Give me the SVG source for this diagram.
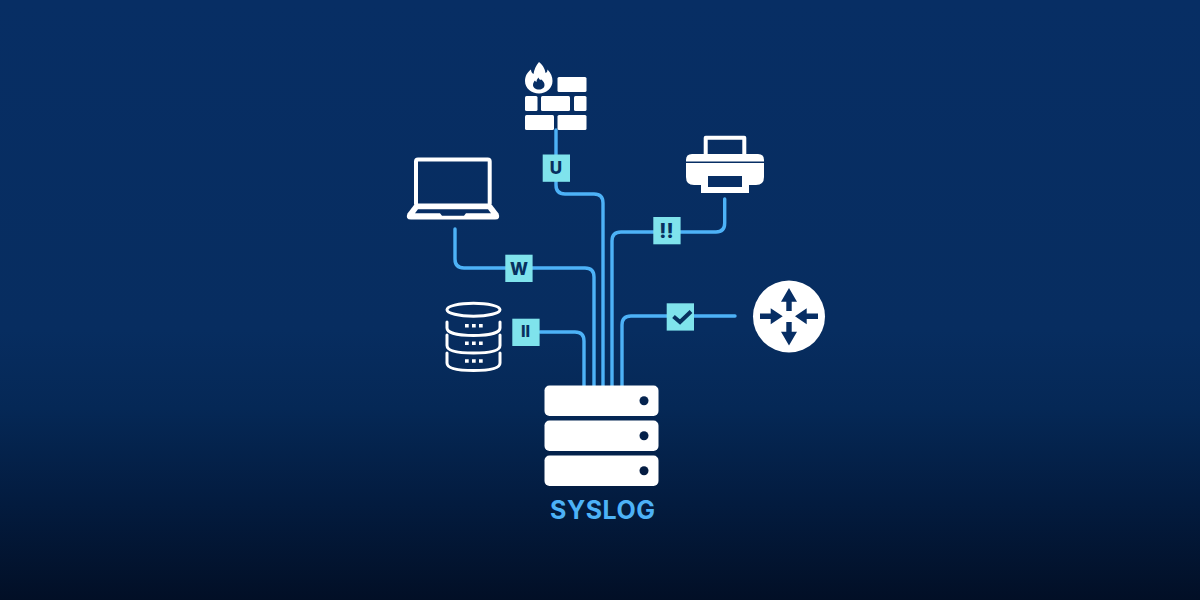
<svg xmlns="http://www.w3.org/2000/svg" width="1200" height="600" viewBox="0 0 1200 600">
<style>
.w{fill:#fff}
.d{fill:#072e64}
.k{fill:none;stroke:#fff;stroke-width:4;stroke-linejoin:round;stroke-linecap:round}
.c{fill:none;stroke:#4db2f7;stroke-width:3.400;stroke-linecap:round;stroke-linejoin:round}
.b{fill:#7fe3ec}
.t{font-family:Inter,"Liberation Sans",sans-serif;font-weight:800;font-size:17px;fill:#07305f;text-anchor:middle}
</style>
<defs>
<linearGradient id="bg" x1="0" y1="0" x2="0" y2="1">
<stop offset="0" stop-color="#072e64"/>
<stop offset="0.55" stop-color="#072d60"/>
<stop offset="0.68" stop-color="#052856"/>
<stop offset="0.83" stop-color="#031c40"/>
<stop offset="1" stop-color="#020f26"/>
</linearGradient>
</defs>
<rect width="1200" height="600" fill="url(#bg)"/>
<g id="connectors">
<path class="c" d="M556 130V185Q556 194 565 194H594Q603 194 603 203V386"/>
<path class="c" d="M455 229V259Q455 268 464 268H585Q594 268 594 277V386"/>
<path class="c" d="M724.700 199V223Q724.700 232 716 232H621Q612 232 612 241V386"/>
<path class="c" d="M735 316H631Q622 316 622 325V386"/>
<path class="c" d="M540 332H575Q584 332 584 341V386"/>
</g>
<g id="firewall">
<rect class="w" x="557.500" y="77" width="29" height="15" rx="1.500"/>
<rect class="w" x="525" y="96" width="12.500" height="15" rx="1.500"/>
<rect class="w" x="541" y="96" width="29" height="15" rx="1.500"/>
<rect class="w" x="574" y="96" width="12.500" height="15" rx="1.500"/>
<rect class="w" x="525" y="115" width="29" height="15" rx="1.500"/>
<rect class="w" x="557.500" y="115" width="29" height="15" rx="1.500"/>
<path class="w" d="M539 62C544 66 545 70 545.500 73C547 72.500 547.500 71 547.500 69.500C551 73 552.500 77 552.500 81C552.500 88.500 546 93.500 539 93.500C531.500 93.500 525 88.500 525 81C525 76 527.500 72 531 69.500C531 71.500 532 73 533.500 74C534 70 536 65.500 539 62Z"/>
<path class="d" d="M538.500 77.500C539 80 541 80 541.500 79.500C543.500 81.500 544.500 83 544.500 85C544.500 87.800 542 89.500 539 89.500C535.500 89.500 533 87.500 533 85C533 83 534 81.500 535 80.500C535.500 81.500 536 81.800 536.500 82C536.500 80.500 537 79 538.500 77.500Z"/>
</g>
<g id="laptop">
<rect class="k" x="416" y="159.500" width="73.700" height="46" rx="2"/>
<path class="w" d="M414 205H492L498.500 213.500Q501 219.500 495 219.500H411Q405 219.500 407.500 213.500Z"/>
<path class="d" d="M418 209.300H488L491 213.300H466L464 215.700H442L440 213.300H415Z"/>
</g>
<g id="printer">
<rect class="k" x="705.700" y="137.700" width="38.600" height="20" stroke-linejoin="miter"/>
<path class="w" d="M692 154H758Q764 154 764 160V177Q764 185 756 185H749V193H701V185H694Q686 185 686 177V160Q686 154 692 154Z"/>
<rect class="d" x="686" y="161.500" width="78" height="1.500"/>
<rect class="d" x="708" y="176" width="34" height="11"/>
</g>
<g id="router">
<circle class="w" cx="789" cy="316.500" r="36"/>
<path class="d" d="M789 288L797 301.700H791.700V311H786.300V301.700H781Z"/>
<path class="d" d="M789 345.500L797 331.700H791.700V322H786.300V331.700H781Z"/>
<path class="d" d="M782.700 316.300L770.700 308.300V313.600H760V319H770.700V324.300Z"/>
<path class="d" d="M795 316.300L806.700 308.300V313.600H818V319H806.700V324.300Z"/>
</g>
<g id="database" fill="none" stroke="#fff" stroke-width="3" stroke-linecap="round">
<ellipse cx="473.500" cy="309.700" rx="26.500" ry="6.500"/>
<path d="M447 322V328C447 333 459 335.500 473.500 335.500C488 335.500 500 333 500 328V322"/>
<path d="M447 335V345.500C447 351 459 353 473.500 353C488 353 500 351 500 345.500V335"/>
<path d="M447 353V363C447 368.500 459 370.500 473.500 370.500C488 370.500 500 368.500 500 363V353"/>
<path d="M465 325.700H482.700M465 343.300H482.700M465 361H482.700" stroke-width="3.500" stroke-dasharray="3.700 3.300" stroke-linecap="butt"/>
</g>
<g id="server">
<rect class="w" x="544.500" y="385.500" width="114" height="30.500" rx="5"/>
<rect class="w" x="544.500" y="420.500" width="114" height="30.500" rx="5"/>
<rect class="w" x="544.500" y="455.500" width="114" height="30.500" rx="5"/>
<circle fill="#05244f" cx="644" cy="400.700" r="4.500"/>
<circle fill="#04204a" cx="644" cy="435.700" r="4.500"/>
<circle fill="#041c42" cx="644" cy="470.700" r="4.500"/>
<text x="602.800" y="519" font-family="Inter,'Liberation Sans',sans-serif" font-weight="700" font-size="25" letter-spacing="0.500" fill="#4db2f7" text-anchor="middle">SYSLOG</text>
</g>
<g id="badge-u">
<rect class="b" x="542.700" y="154.500" width="27.300" height="27.300"/>
<text class="t" x="556" y="174">U</text>
</g>
<g id="badge-w">
<rect class="b" x="505.300" y="254.700" width="27.300" height="27.300"/>
<text class="t" x="519" y="275.300">W</text>
</g>
<g id="badge-warn">
<rect class="b" x="653.300" y="217" width="27.300" height="27.300"/>
<text class="t" x="666.500" y="238" style="font-size:20px">!!</text>
</g>
<g id="badge-check">
<rect class="b" x="666.700" y="303.300" width="27.300" height="27.300"/>
<path d="M673.500 316.500L680 322L691 311.500" fill="none" stroke="#07305f" stroke-width="4"/>
</g>
<g id="badge-pause">
<rect class="b" x="512.300" y="318.700" width="27.300" height="27.300"/>
<text class="t" x="525.500" y="337.300" style="font-size:16px">II</text>
</g>
</svg>
